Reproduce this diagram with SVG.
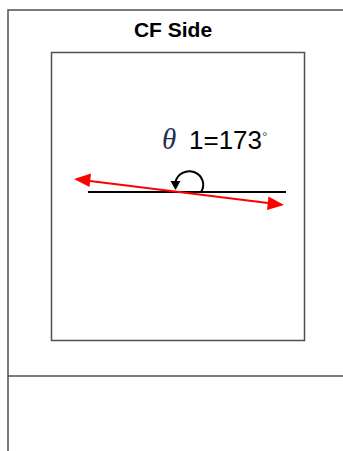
<svg xmlns="http://www.w3.org/2000/svg" width="343" height="451" viewBox="0 0 343 451">
<defs>
<style>
.frame{fill:none;stroke:#505050;stroke-width:1.5}
.red{stroke:#ff0000;stroke-width:2;fill:none}
.lbl{font-family:"Liberation Sans",Arial,sans-serif}
</style>
</defs>
<rect width="343" height="451" fill="#fff"/>
<g id="outer-frame">
<path class="frame" d="M8,451 V10 H343"/>
<path class="frame" d="M8,376 H343"/>
</g>
<text class="lbl" x="173" y="37" font-size="21" font-weight="bold" text-anchor="middle" fill="#000">CF Side</text>
<g id="inner-box">
<rect class="frame" x="51.5" y="52.5" width="253" height="288" stroke="#404040"/>
</g>
<g id="connectors">
<line x1="88" y1="192" x2="286" y2="192" stroke="#000" stroke-width="2"/>
<line x1="175" y1="191.5" x2="90" y2="181" class="red"/>
<polygon points="74,179 91,173.5 89.5,187" fill="#ff0000"/>
<line x1="175" y1="191.5" x2="268" y2="203" class="red"/>
<polygon points="284,205 267,210 268.5,196.5" fill="#ff0000"/>
<path d="M201,192 A14,13.5 0 1,0 175.5,182" fill="none" stroke="#000" stroke-width="2"/>
<polygon points="170.5,181 180.5,181 175.5,190" fill="#000"/>
</g>
<g id="angle-label">
<text x="162" y="149" font-family="'Liberation Serif',serif" font-style="italic" font-size="29" fill="#1f3050">θ</text>
<text class="lbl" x="189" y="149" font-size="26" fill="#000">1=173</text>
<text class="lbl" x="262" y="142" font-size="14" fill="#555">°</text>
</g>
</svg>
